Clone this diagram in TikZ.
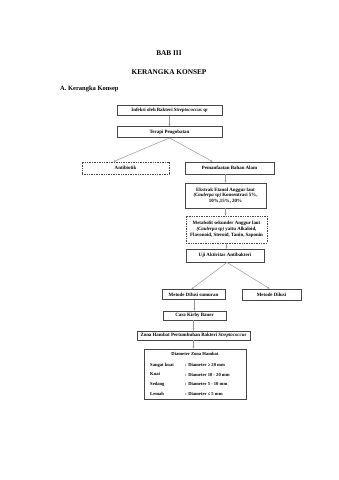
\documentclass[tikz,border=0pt]{standalone}
\usepackage{fontspec}
\setmainfont{Liberation Serif}
\usetikzlibrary{arrows.meta}
\tikzset{
  box/.style={draw=gray!55!black, line width=0.8pt, fill=white, inner sep=1pt,
    align=center, font=\bfseries\fontsize{4.9}{5.8}\selectfont},
  dashbox/.style={box, dashed, dash pattern=on 1pt off 0.7pt},
  link/.style={draw=gray!80, line width=0.5pt, -{Stealth[length=2.2pt,width=2pt]}},
  cell/.style={font=\bfseries\fontsize{4.6}{5.4}\selectfont, anchor=west, inner sep=0pt}
}
\begin{document}
\begin{tikzpicture}[x=1pt,y=-1pt]
\useasboundingbox[fill=white] (0,0) rectangle (339,480);
% headings
\node[font=\bfseries\fontsize{7.3}{8}\selectfont] (bab) at (169,53) {BAB III};
\node[font=\bfseries\fontsize{7.3}{8}\selectfont] (judul) at (169,72) {KERANGKA KONSEP};
\node[font=\bfseries\fontsize{6.5}{7}\selectfont, anchor=west, inner sep=0pt] (sub) at (60,89) {A. Kerangka Konsep};
% boxes
\node[box, minimum width=105, minimum height=10] (infeksi) at (169.5,110.5) {Infeksi oleh Bakteri \textit{Streptococcus sp}};
\node[box, minimum width=105, minimum height=11] (terapi) at (169.5,132) {Terapi Pengobatan};
\node[dashbox, minimum width=87, minimum height=12] (antibiotik) at (125.5,168) {Antibiotik};
\node[box, minimum width=89, minimum height=12] (alam) at (229.5,168) {Pemanfaatan Bahan Alam};
\node[box, minimum width=81, minimum height=25] (ekstrak) at (225.5,195.5) {Ekstrak Etanol Anggur laut\\\textit{(Caulerpa sp)} Konsentrasi 5\%,\\10\%,15\%, 20\%};
\node[dashbox, minimum width=81, minimum height=27] (metabolit) at (226.5,229.5) {Metabolit sekunder Anggur laut\\\textit{(Caulerpa sp)} yaitu Alkaloid,\\Flavonoid, Steroid, Tanin, Saponin};
\node[box, minimum width=78, minimum height=13] (uji) at (225,255.5) {Uji Aktivitas Antibakteri};
\node[box, minimum width=63, minimum height=10] (difusi) at (193.5,294.5) {Metode Difusi sumuran};
\node[box, minimum width=59, minimum height=11] (dilusi) at (271.5,294.5) {Metode Dilusi};
\node[box, minimum width=63, minimum height=9] (kirby) at (194.5,315.5) {Cara Kirby Bauer};
\node[box, minimum width=113, minimum height=9] (zona) at (193.5,335.5) {Zona Hambat Pertumbuhan Bakteri \textit{Streptococcus}};
\node[box, minimum width=102, minimum height=50] (tabel) at (195,374) {};
% table inside
\node[cell, anchor=center] (thead) at (195,353.5) {Diameter Zona Hambat};
\node[cell] (r1a) at (150,365) {Sangat kuat};
\node[cell] (r1b) at (185,365) {: Diameter ≥ 20 mm};
\node[cell] (r2a) at (150,374.5) {Kuat};
\node[cell] (r2b) at (185,374.5) {: Diameter 10 - 20 mm};
\node[cell] (r3a) at (150,384) {Sedang};
\node[cell] (r3b) at (185,384) {: Diameter 5 - 10 mm};
\node[cell] (r4a) at (150,394) {Lemah};
\node[cell] (r4b) at (185,394) {: Diameter ≤ 5 mm};
% connectors
\draw[link] (infeksi) -- (terapi);
\draw[link] (terapi.south) -- ([xshift=-12pt]antibiotik.north);
\draw[link] (terapi.south) -- ([xshift=-17pt]alam.north);
\draw[link] (ekstrak.north |- alam.south) -- (ekstrak.north);
\draw[link] (ekstrak) -- (ekstrak.south |- metabolit.north);
\draw[link] (metabolit) -- (metabolit.south |- uji.north);
\draw[link] ([xshift=2pt]uji.south) -- ([xshift=-2pt]difusi.north);
\draw[link] ([xshift=2pt]uji.south) -- ([xshift=-2pt]dilusi.north);
\draw[link] (difusi.south -| kirby.north) -- (kirby.north);
\draw[link] (kirby.south -| zona.north) -- (zona.north);
\draw[link] (zona.south) -- (zona.south |- tabel.north);
\end{tikzpicture}
\end{document}
